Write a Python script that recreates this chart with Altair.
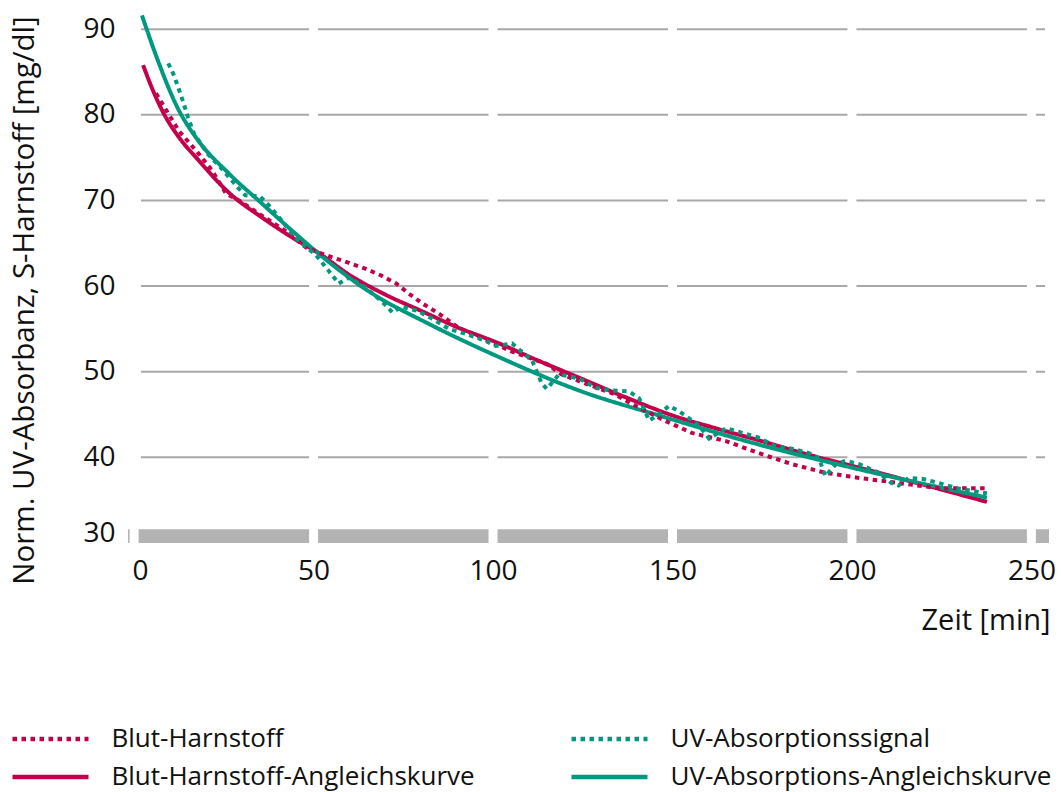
import altair as alt
import pandas as pd

# ---------------- data ----------------
blut_t = [6.1, 12.5, 17.3, 21.7, 25.6, 29.2, 35.7, 42.3, 47.9, 53.5, 59.9, 64.6, 69.0, 73.0,
          76.6, 80.2, 85.0, 90.5, 96.0, 105.0, 115.0, 119.0, 124.0, 133.7, 138.0, 142.6, 148.0,
          155.4, 164.9, 174.0, 183.3, 192.6, 202.0, 215.0, 224.0, 237.3]
blut_v = [82.5, 78.1, 75.8, 73.5, 70.8, 70.0, 68.2, 66.4, 64.5, 63.6, 62.7, 62.0, 61.2, 60.3,
          59.1, 58.0, 56.75, 55.1, 54.1, 52.4, 50.9, 49.7, 48.9, 47.4, 46.4, 45.4, 44.25,
          42.85, 41.9, 40.5, 39.2, 38.2, 37.6, 36.9, 36.4, 36.4]

blut_fit_t = [2.5, 5.4, 8.2, 12.8, 17.5, 26.7, 36.0, 45.3, 50.9, 60.0, 70.0, 80.0, 90.0, 101.7,
              112.0, 124.0, 137.0, 150.0, 162.0, 174.0, 188.0, 202.0, 220.0, 237.6]
blut_fit_v = [85.8, 82.7, 80.2, 77.2, 74.9, 70.8, 67.9, 65.35, 64.0, 61.3, 59.0, 57.1, 55.2, 53.3,
              51.4, 49.3, 47.0, 44.9, 43.4, 42.0, 40.3, 38.8, 36.8, 34.8]

uv_t = [9.5, 10.9, 12.3, 13.6, 15.0, 16.7, 20.6, 24.2, 28.9, 31.0, 35.0, 37.6, 41.2, 45.0, 50.7,
        53.8, 57.0, 59.9, 64.6, 69.5, 72.0, 74.4, 79.0, 83.0, 87.7, 92.5, 98.0, 100.8, 105.3,
        107.0, 110.9, 113.6, 115.0, 118.4, 124.0, 128.7, 133.1, 137.9, 140.7, 143.5, 146.2,
        149.0, 151.8, 153.8, 157.4, 160.2, 164.9, 169.4, 174.0, 178.8, 183.3, 188.0, 190.8,
        192.6, 195.5, 198.3, 202.0, 207.5, 211.0, 213.0, 215.8, 219.5, 224.2, 229.0, 233.4, 237.6]
uv_v = [86.0, 84.8, 83.2, 81.6, 79.7, 77.8, 75.4, 73.8, 71.5, 70.6, 70.5, 69.4, 67.6, 65.6, 63.6,
        62.0, 60.3, 61.0, 59.8, 58.0, 56.9, 57.6, 57.1, 56.2, 55.0, 54.4, 53.6, 53.0, 53.3,
        52.7, 51.3, 48.6, 48.0, 49.7, 49.2, 48.1, 47.8, 47.7, 46.9, 44.3, 45.0,
        46.0, 45.4, 44.8, 43.7, 42.2, 43.4, 42.85, 42.3, 41.3, 41.0, 40.5, 39.9,
        37.8, 39.2, 39.6, 39.2, 38.2, 37.0, 36.7, 37.6, 37.5, 37.0, 36.4, 36.1, 35.8]

uv_fit_t = [2.2, 5.6, 12.5, 17.3, 26.5, 35.7, 45.0, 54.3, 64.6, 83.0, 101.7, 124.0, 147.0,
            174.0, 202.0, 237.6]
uv_fit_v = [91.6, 87.5, 80.5, 77.3, 73.1, 69.6, 66.1, 62.8, 59.6, 55.4, 51.7, 47.8, 44.8,
            41.5, 38.6, 35.3]

# legend fills column by column: left column = Blut..., right column = UV...
series_names = ["Blut-Harnstoff", "Blut-Harnstoff-Angleichskurve",
                "UV-Absorptionssignal", "UV-Absorptions-Angleichskurve"]
x_ticks = [0, 50, 100, 150, 200, 250]
y_ticks = [30, 40, 50, 60, 70, 80, 90]
grid_vals = [40, 50, 60, 70, 80, 90]

RED = "#C5004B"
TEAL = "#00997F"
FONT = "Open Sans"

# ---------------- tables ----------------
def table(name, ts, vs):
    return pd.DataFrame({"series": name, "t": ts, "v": vs})

raw_df = pd.concat([table("Blut-Harnstoff", blut_t, blut_v),
                    table("UV-Absorptionssignal", uv_t, uv_v)], ignore_index=True)
fit_df = pd.concat([table("Blut-Harnstoff-Angleichskurve", blut_fit_t, blut_fit_v),
                    table("UV-Absorptions-Angleichskurve", uv_fit_t, uv_fit_v)],
                   ignore_index=True)

XDOM = [-1.7, 254.9]
YDOM = [30, 92]
xs = alt.Scale(domain=XDOM, nice=False, zero=False)
ys = alt.Scale(domain=YDOM, nice=False, zero=False)

X_AXIS = alt.Axis(values=x_ticks, title="Zeit [min]", grid=False, domain=False, ticks=False,
                  labelFont=FONT, labelFontSize=28, labelColor="#111111", labelPadding=14,
                  labelOffset={"condition": {"test": "datum.value == 0", "value": 6}, "value": 0},
                  titleFont=FONT, titleFontSize=29, titleFontWeight="normal", titleColor="#111111",
                  titleAlign="right", titleAnchor="end", titleX=922, titleY=86,
                  titleBaseline="alphabetic", titleAngle=0)
Y_AXIS = alt.Axis(values=y_ticks, title="Norm. UV-Absorbanz, S-Harnstoff [mg/dl]", grid=False,
                  domain=False, ticks=False, labelFont=FONT, labelFontSize=28,
                  labelColor="#111111", labelPadding=13, labelBaseline="middle",
                  labelOffset={"condition": {"test": "datum.value == 30", "value": -10}, "value": 0},
                  titleFont=FONT, titleFontSize=29.5, titleFontWeight="normal", titleColor="#111111",
                  titleAngle=270, titleAlign="center", titleBaseline="top",
                  titleX=-118, titleY=288)

grid_df = pd.DataFrame({"y": grid_vals, "x0": 1.9, "x1": 253.8})
grid = alt.Chart(grid_df).mark_rule(color="#a8a8a8", strokeWidth=2).encode(
    x=alt.X("x0:Q", scale=xs, axis=X_AXIS), x2="x1:Q",
    y=alt.Y("y:Q", scale=ys, axis=Y_AXIS))

bar_df = pd.DataFrame({"x0": [XDOM[0]], "x1": [XDOM[1]], "y0": [30], "y1": [31.6]})
bar = alt.Chart(bar_df).mark_rect(color="#b3b3b3").encode(
    x=alt.X("x0:Q", scale=xs, axis=X_AXIS), x2="x1:Q",
    y=alt.Y("y0:Q", scale=ys, axis=Y_AXIS), y2="y1:Q")

gap_df = pd.DataFrame({"x": x_ticks, "y0": YDOM[0], "y1": YDOM[1]})
gaps = alt.Chart(gap_df).mark_rule(color="white", strokeWidth=9).encode(
    x=alt.X("x:Q", scale=xs, axis=X_AXIS),
    y=alt.Y("y0:Q", scale=ys, axis=Y_AXIS), y2="y1:Q")

# a long horizontal path symbol keeps the swatch wide while the row height stays small
LEG = alt.Legend(title=None, orient="none", legendX=-90.5, legendY=714, columns=2,
                 columnPadding=70, rowPadding=12, gridAlign="all", padding=0,
                 symbolType="M-4,0H4", symbolSize=361, symbolStrokeWidth=4.5,
                 labelFont=FONT, labelFontSize=26, labelColor="#111111", labelOffset=48,
                 labelLimit=600)
color = alt.Color("series:N", scale=alt.Scale(domain=series_names, range=[RED, RED, TEAL, TEAL]),
                  legend=LEG)
dash = alt.StrokeDash("series:N", scale=alt.Scale(domain=series_names,
                                                  range=[[4.5, 4.5], [1, 0], [4.5, 4.5], [1, 0]]),
                      legend=LEG)

fits = alt.Chart(fit_df).mark_line(strokeWidth=4, interpolate="monotone", clip=True).encode(
    x=alt.X("t:Q", scale=xs, axis=X_AXIS),
    y=alt.Y("v:Q", scale=ys, axis=Y_AXIS),
    color=color, strokeDash=dash, detail="series:N")

raws = alt.Chart(raw_df).mark_line(strokeWidth=4, strokeCap="butt", clip=True).encode(
    x=alt.X("t:Q", scale=xs, axis=X_AXIS),
    y=alt.Y("v:Q", scale=ys, axis=Y_AXIS),
    color=color, strokeDash=dash, detail="series:N")

chart = alt.layer(grid, bar, gaps, fits, raws).properties(
    width=921, height=531,
    padding={"left": 128, "top": 12, "right": 12, "bottom": 249},
    autosize=alt.AutoSizeParams(type="none"),
    background="white",
).configure_view(stroke=None)

chart.save("out.html", embed_options={"renderer": "svg", "actions": False})
